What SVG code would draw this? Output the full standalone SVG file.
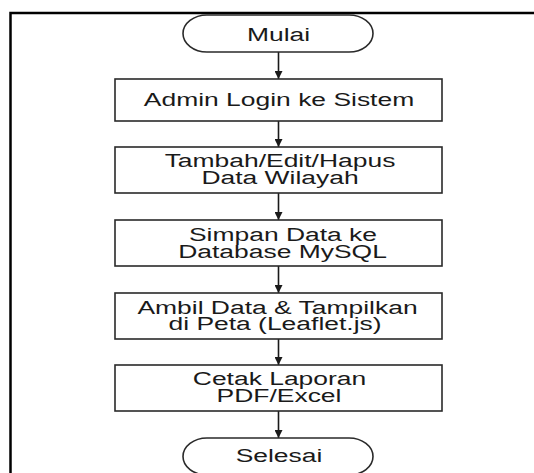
<svg xmlns="http://www.w3.org/2000/svg" width="534" height="473" viewBox="0 0 534 473">
<defs>
<style>
.box{fill:#fff;stroke:#2a2a2a;stroke-width:1.6}
.term{fill:#fff;stroke:#2a2a2a;stroke-width:1.6}
.lbl{font-family:"Liberation Sans",Arial,sans-serif;font-size:18px;fill:#1a1a1a;text-anchor:middle}
.edge{stroke:#1a1a1a;stroke-width:1.6;fill:none;marker-end:url(#ah)}
</style>
<marker id="ah" viewBox="0 0 10 10" refX="10" refY="5" markerWidth="8" markerHeight="8" markerUnits="userSpaceOnUse" orient="auto">
<path d="M0,0 L10,5 L0,10 Z" fill="#1a1a1a"/>
</marker>
</defs>
<rect width="534" height="473" fill="#fff"/>
<path d="M10.5,480 V13 H540" fill="none" stroke="#000" stroke-width="2.5"/>
<g id="connectors">
<line class="edge" x1="278.5" y1="52" x2="278.5" y2="79"/>
<line class="edge" x1="278.5" y1="121" x2="278.5" y2="147"/>
<line class="edge" x1="278.5" y1="193" x2="278.5" y2="220"/>
<line class="edge" x1="278.5" y1="266" x2="278.5" y2="293"/>
<line class="edge" x1="278.5" y1="339" x2="278.5" y2="365"/>
<line class="edge" x1="278.5" y1="411" x2="278.5" y2="438"/>
</g>
<g id="mulai">
<rect class="term" x="183" y="15" width="190" height="37" rx="24" ry="18.5"/>
<text class="lbl" transform="translate(278.5,40.5) scale(1.47,1)">Mulai</text>
</g>
<g id="login">
<rect class="box" x="115" y="79" width="327" height="42"/>
<text class="lbl" transform="translate(279,106) scale(1.47,1)">Admin Login ke Sistem</text>
</g>
<g id="crud">
<rect class="box" x="115" y="147" width="327" height="46"/>
<text class="lbl" transform="translate(280,167) scale(1.47,1)">Tambah/Edit/Hapus</text>
<text class="lbl" transform="translate(280,184.3) scale(1.47,1)">Data Wilayah</text>
</g>
<g id="simpan">
<rect class="box" x="115" y="220" width="327" height="46"/>
<text class="lbl" transform="translate(283,240.7) scale(1.47,1)">Simpan Data ke</text>
<text class="lbl" transform="translate(282.5,257.5) scale(1.47,1)">Database MySQL</text>
</g>
<g id="ambil">
<rect class="box" x="115" y="293" width="327" height="46"/>
<text class="lbl" transform="translate(277.5,313.5) scale(1.47,1)">Ambil Data &amp; Tampilkan</text>
<text class="lbl" transform="translate(275,330) scale(1.47,1)">di Peta (Leaflet.js)</text>
</g>
<g id="cetak">
<rect class="box" x="115" y="365" width="327" height="46"/>
<text class="lbl" transform="translate(279.5,385) scale(1.47,1)">Cetak Laporan</text>
<text class="lbl" transform="translate(279,402) scale(1.47,1)">PDF/Excel</text>
</g>
<g id="selesai">
<rect class="term" x="183" y="438" width="190" height="37" rx="24" ry="18.5"/>
<text class="lbl" transform="translate(279,462) scale(1.47,1)">Selesai</text>
</g>
</svg>
